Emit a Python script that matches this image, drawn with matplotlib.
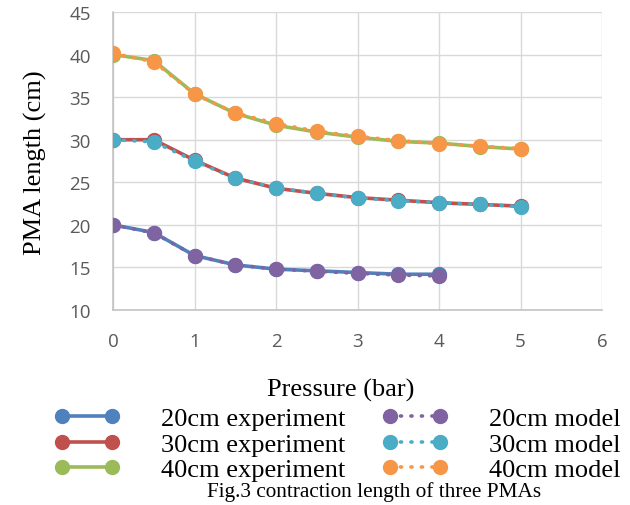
import matplotlib
matplotlib.use("Agg")
import matplotlib.pyplot as plt

# ---- data ----
p20 = [0, 0.5, 1, 1.5, 2, 2.5, 3, 3.5, 4]
p30 = [0, 0.5, 1, 1.5, 2, 2.5, 3, 3.5, 4, 4.5, 5]
p40 = [0, 0.5, 1, 1.5, 2, 2.5, 3, 3.5, 4, 4.5, 5]
exp20 = [20.0, 19.1, 16.4, 15.3, 14.8, 14.6, 14.4, 14.2, 14.2]
exp30 = [30.0, 30.0, 27.6, 25.5, 24.3, 23.7, 23.2, 22.9, 22.6, 22.4, 22.2]
exp40 = [40.0, 39.3, 35.4, 33.1, 31.7, 30.9, 30.3, 29.8, 29.6, 29.2, 28.9]
mod20 = [20.0, 19.05, 16.4, 15.3, 14.8, 14.55, 14.3, 14.1, 14.0]
mod30 = [30.0, 29.75, 27.5, 25.45, 24.35, 23.7, 23.15, 22.85, 22.6, 22.4, 22.15]
mod40 = [40.15, 39.15, 35.35, 33.15, 31.9, 31.0, 30.4, 29.9, 29.55, 29.25, 28.95]
labels_exp = ["20cm experiment", "30cm experiment", "40cm experiment"]
labels_mod = ["20cm model", "30cm model", "40cm model"]
xticks = [0, 1, 2, 3, 4, 5, 6]
yticks = [10, 15, 20, 25, 30, 35, 40, 45]

c_exp = ["#4F81BD", "#C0504D", "#9BBB59"]
c_mod = ["#8064A2", "#4BACC6", "#F79646"]

serif = "Liberation Serif"
W, H = 630, 506
fig = plt.figure(figsize=(W / 100, H / 100), dpi=100)
ax = fig.add_axes([113 / W, 1 - 311 / H, (602 - 113) / W, (311 - 13) / H])

lw = 2.6
ms = 10
handles = []
for x, y, c, lab in zip([p20, p30, p40], [exp20, exp30, exp40], c_exp, labels_exp):
    h, = ax.plot(x, y, color=c, lw=lw, marker="o", ms=ms, mec=c, mfc=c,
                 solid_capstyle="round", label=lab, zorder=3)
    handles.append(h)
for x, y, c, lab in zip([p20, p30, p40], [mod20, mod30, mod40], c_mod, labels_mod):
    h, = ax.plot(x, y, color=c, lw=lw, marker="o", ms=ms, mec=c, mfc=c,
                 linestyle=(0, (0.3, 2.6)), dash_capstyle="round",
                 label=lab, zorder=4)
    handles.append(h)

ax.set_xlim(0, 6)
ax.set_ylim(10, 45)
ax.set_xticks(xticks)
ax.set_yticks(yticks)
ax.grid(True, color="#D9D9D9", lw=1.0)
ax.set_axisbelow(True)
for s in ["top", "right"]:
    ax.spines[s].set_visible(False)
for s in ["left", "bottom"]:
    ax.spines[s].set_color("#BFBFBF")
    ax.spines[s].set_linewidth(1.1)
ax.tick_params(axis="both", length=0, labelsize=13.5, labelcolor="#595959")
ax.tick_params(axis="x", pad=16)
ax.tick_params(axis="y", pad=16)
for t in ax.get_xticklabels() + ax.get_yticklabels():
    t.set_fontfamily("Open Sans")

fig.text(340.5 / W, 1 - 397 / H, "Pressure (bar)", family=serif, fontsize=19,
         ha="center", va="baseline")
fig.text(35 / W, 1 - 163 / H, "PMA length (cm)", family=serif, fontsize=19,
         ha="center", va="center", rotation=90)
fig.text(374.5 / W, 1 - 497 / H, "Fig.3 contraction length of three PMAs",
         family=serif, fontsize=15.3, ha="center", va="baseline")

leg = fig.legend(handles=handles, ncol=2, loc="upper left",
                 bbox_to_anchor=(54 / W, 1 - 408 / H),
                 frameon=False, borderpad=0, borderaxespad=0,
                 prop={"family": serif, "size": 19},
                 handlelength=2.49, handletextpad=1.56, columnspacing=1.4,
                 labelspacing=0.07, numpoints=2)

fig.savefig("out.png", dpi=100)
